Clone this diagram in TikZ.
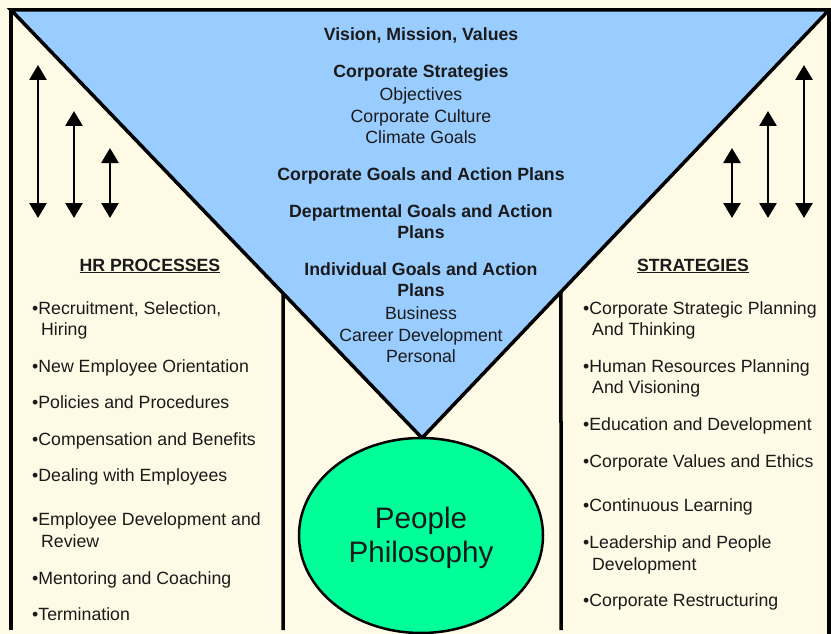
\documentclass[tikz,border=0pt]{standalone}
\usepackage{fontspec}
\setmainfont{Liberation Sans}
\usetikzlibrary{arrows.meta,shapes.geometric}
\definecolor{cream}{HTML}{FFFAE5}
\definecolor{skyb}{HTML}{99CCFF}
\definecolor{mint}{HTML}{00FF99}
\definecolor{ink}{HTML}{1A1A1A}
\begin{document}
\begin{tikzpicture}[x=1pt,y=-1pt,
  frame/.style={line width=3.5pt},
  dbl/.style={line width=2.8pt,{Triangle[width=17pt,length=15pt]}-{Triangle[width=17pt,length=15pt]}},
  lbl/.style={inner sep=0pt,anchor=base,font=\fontsize{17.7}{21.6}\selectfont,text=ink},
  bld/.style={inner sep=0pt,anchor=base,font=\fontsize{17.7}{21.6}\selectfont\bfseries,text=ink},
  item/.style={inner sep=0pt,anchor=base west,font=\fontsize{17.7}{21.6}\selectfont,text=ink}]
\fill[cream] (0,0) rectangle (831,634);
\useasboundingbox (0,0) rectangle (831,634);
% geometry
\coordinate (tl) at (11,10);
\coordinate (tr) at (829,10);
\coordinate (bv) at (422,438);
\path (tl) -- (bv) coordinate[pos=0.6618] (li);
\path (tr) -- (bv) coordinate[pos=0.6585] (ri);
\coordinate (lb) at (283,630);
\coordinate (rb) at (561,630);
\coordinate (olb) at (11,630);
\coordinate (orb) at (829,634);
% triangle
\draw[frame,fill=skyb,line join=miter] (tl) -- (tr) -- (bv) -- cycle;
% frame lines
\draw[frame] (olb) -- (tl);
\draw[frame] (tr) -- (orb);
\draw[frame] (li) -- (lb);
\draw[frame] (ri) -- (rb);
% ellipse
\node[ellipse,draw,line width=2.5pt,fill=mint,minimum width=244pt,minimum height=195pt,inner sep=0pt,align=center,
  font=\fontsize{29.6}{34}\selectfont,text=ink,text depth=2pt] (pp) at (421,535.5) {People\\Philosophy};
% arrows left
\coordinate (a1t) at (38,65);  \coordinate (a1b) at (38,218);
\coordinate (a2t) at (74,111); \coordinate (a2b) at (74,218);
\coordinate (a3t) at (110,148);\coordinate (a3b) at (110,218);
\draw[dbl] (a1t) -- (a1b);
\draw[dbl] (a2t) -- (a2b);
\draw[dbl] (a3t) -- (a3b);
% arrows right
\coordinate (b1t) at (732,148); \coordinate (b1b) at (732,218);
\coordinate (b2t) at (768,111); \coordinate (b2b) at (768,218);
\coordinate (b3t) at (804,65);  \coordinate (b3b) at (804,218);
\draw[dbl] (b1t) -- (b1b);
\draw[dbl] (b2t) -- (b2b);
\draw[dbl] (b3t) -- (b3b);
% centre texts
\node[bld] (c1) at (421,41) {Vision, Mission, Values};
\node[bld] (c2) at (421,78) {Corporate Strategies};
\node[lbl] (c3) at (421,100) {Objectives};
\node[lbl] (c4) at (421,122) {Corporate Culture};
\node[lbl] (c5) at (421,143) {Climate Goals};
\node[bld] (c6) at (421,180) {Corporate Goals and Action Plans};
\node[bld] (c7) at (421,217) {Departmental Goals and Action};
\node[bld] (c8) at (421,238) {Plans};
\node[bld] (c9) at (421,275) {Individual Goals and Action};
\node[bld] (c10) at (421,296) {Plans};
\node[lbl] (c11) at (421,319) {Business};
\node[lbl] (c12) at (421,341) {Career Development};
\node[lbl] (c13) at (421,362) {Personal};
% left list
\node[bld] (hrh) at (150,271) {\underline{HR PROCESSES}};
\node[item] (l1) at (32,314) {•Recruitment, Selection,};
\node[item] (l1b) at (41,335) {Hiring};
\node[item] (l2) at (32,372) {•New Employee Orientation};
\node[item] (l3) at (32,408) {•Policies and Procedures};
\node[item] (l4) at (32,445) {•Compensation and Benefits};
\node[item] (l5) at (32,481) {•Dealing with Employees};
\node[item] (l6) at (32,525) {•Employee Development and};
\node[item] (l6b) at (41,547) {Review};
\node[item] (l7) at (32,584) {•Mentoring and Coaching};
\node[item] (l8) at (32,620) {•Termination};
% right list
\node[bld] (sth) at (693,271) {\underline{STRATEGIES}};
\node[item] (r1) at (583,314) {•Corporate Strategic Planning};
\node[item] (r1b) at (592,335) {And Thinking};
\node[item] (r2) at (583,372) {•Human Resources Planning};
\node[item] (r2b) at (592,393) {And Visioning};
\node[item] (r3) at (583,430) {•Education and Development};
\node[item] (r4) at (583,467) {•Corporate Values and Ethics};
\node[item] (r5) at (583,511) {•Continuous Learning};
\node[item] (r6) at (583,548) {•Leadership and People};
\node[item] (r6b) at (592,570) {Development};
\node[item] (r7) at (583,606) {•Corporate Restructuring};
\end{tikzpicture}
\end{document}
